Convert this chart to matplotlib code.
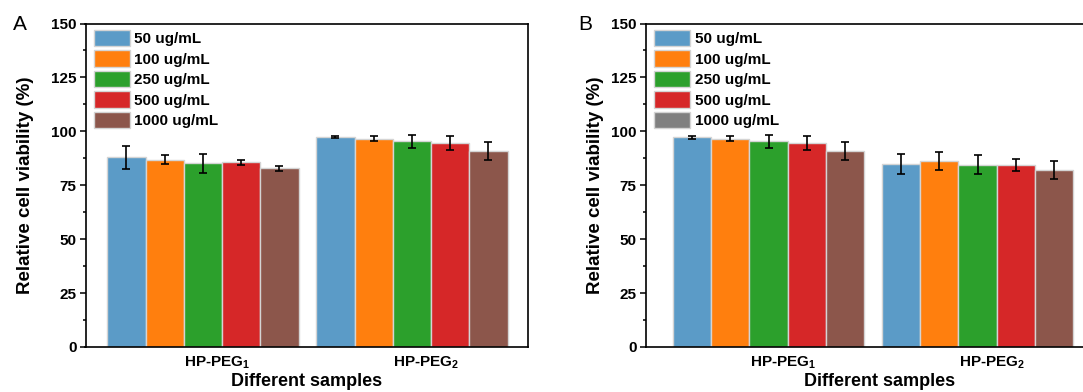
import numpy as np
import matplotlib
matplotlib.use('Agg')
import matplotlib.pyplot as plt
from matplotlib.patches import Patch

plt.rcParams['font.family'] = 'Liberation Sans'
plt.rcParams['font.weight'] = 'bold'
plt.rcParams['mathtext.fontset'] = 'custom'
plt.rcParams['mathtext.bf'] = 'Liberation Sans:bold'
plt.rcParams['mathtext.rm'] = 'Liberation Sans:bold'

# data
samples = ['HP-PEG$_\\mathbf{1}$', 'HP-PEG$_\\mathbf{2}$']
concs = ['50 ug/mL', '100 ug/mL', '250 ug/mL', '500 ug/mL', '1000 ug/mL']

# rows = concentrations, cols = samples
a_means = [[88.0, 97.3], [86.8, 96.6], [85.1, 95.3], [85.6, 94.6], [82.9, 90.9]]
a_errs = [[5.3, 0.6], [2.0, 1.2], [4.3, 2.8], [1.0, 3.4], [1.1, 4.0]]
b_means = [[97.3, 84.9], [96.6, 86.1], [95.3, 84.4], [94.6, 84.4], [90.9, 82.1]]
b_errs = [[0.7, 4.8], [1.2, 4.2], [2.8, 4.4], [3.4, 2.7], [4.0, 4.0]]

bar_colours = ['#5b9bc7', '#ff7f0e', '#2ca02c', '#d62728', '#8c564b']
legend_colours_a = bar_colours
legend_colours_b = ['#5b9bc7', '#ff7f0e', '#2ca02c', '#d62728', '#808080']

W, H = 1083, 392
fig = plt.figure(figsize=(W / 100, H / 100), dpi=100)


def panel(rect, means, errs, leg_colours, letter, letter_xy, ylab_x, xlab_x, xlim, right_spine=True):
    ax = fig.add_axes(rect)
    x = np.arange(len(samples))
    bw = 0.183
    for i in range(len(concs)):
        ax.bar(x + (i - 2) * bw, means[i], bw, yerr=errs[i], color=bar_colours[i],
               edgecolor='#d4d4d4', linewidth=1.0, capsize=2.6,
               error_kw=dict(elinewidth=1.2, capthick=1.2, ecolor='black'), zorder=2)
    ax.set_xlim(xlim)
    ax.set_ylim(0, 150)
    ax.set_yticks(np.arange(0, 151, 25))
    ax.set_yticks(np.arange(12.5, 150, 25), minor=True)
    ax.set_xticks(x + 0.07)
    ax.set_xticklabels(samples, fontsize=11, fontweight='bold')
    ax.tick_params(axis='x', length=0, pad=5)
    ax.tick_params(axis='y', which='major', length=4.5, width=1.1, pad=2, labelsize=11)
    ax.tick_params(axis='y', which='minor', length=2, width=1.1)
    for s in ax.spines.values():
        s.set_linewidth(1.2)
    ax.spines['right'].set_visible(right_spine)
    ax.set_ylabel('Relative cell viability (%)', fontsize=13.5, fontweight='bold', va='center')
    ax.yaxis.set_label_coords(ylab_x, 0.5)
    ax.set_xlabel('Different samples', fontsize=13, fontweight='bold', va='center')
    ax.xaxis.set_label_coords(xlab_x, -0.107)
    handles = [Patch(facecolor=c, edgecolor='#d4d4d4', linewidth=1.0) for c in leg_colours]
    ax.legend(handles, concs, loc='upper left', bbox_to_anchor=(0.019, 0.98),
              frameon=False, borderaxespad=0, borderpad=0,
              handlelength=2.35, handleheight=1.25, handletextpad=0.3, labelspacing=0.28,
              prop={'weight': 'bold', 'size': 11})
    fig.text(letter_xy[0], letter_xy[1], letter, fontsize=15, fontweight='normal',
             ha='center', va='center')
    return ax


ax1 = panel([85.5 / W, 45 / H, 442 / W, 323.5 / H], a_means, a_errs, legend_colours_a,
            'A', (20 / W, 1 - 24 / H), -0.135, 0.5, (-0.562, 1.553))
ax2 = panel([645.6 / W, 45 / H, 449 / W, 323.5 / H], b_means, b_errs, legend_colours_b,
            'B', (585 / W, 1 - 24 / H), -0.112, 0.52, (-0.588, 1.56), right_spine=False)

plt.savefig('out.png', dpi=100)
